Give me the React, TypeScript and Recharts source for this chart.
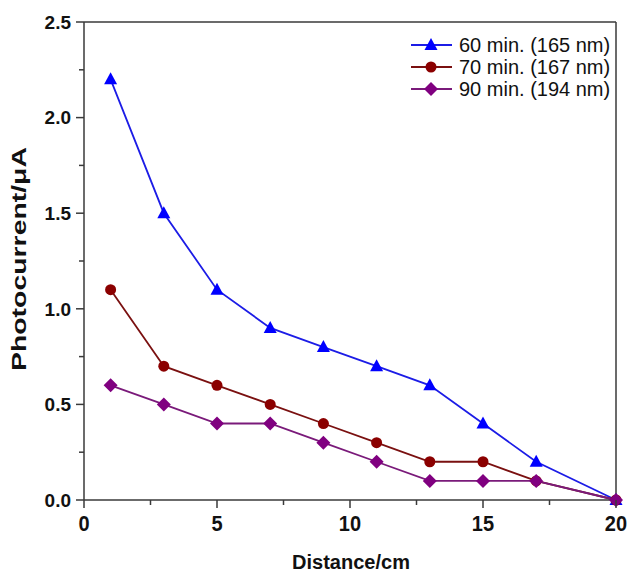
import React from "react"
import { LineChart, Line, XAxis, YAxis, ReferenceLine } from "recharts"

const distances = [1, 3, 5, 7, 9, 11, 13, 15, 17, 20]
const min60 = [2.2, 1.5, 1.1, 0.9, 0.8, 0.7, 0.6, 0.4, 0.2, 0]
const min70 = [1.1, 0.7, 0.6, 0.5, 0.4, 0.3, 0.2, 0.2, 0.1, 0]
const min90 = [0.6, 0.5, 0.4, 0.4, 0.3, 0.2, 0.1, 0.1, 0.1, 0]

const xTicks = [0, 2.5, 5, 7.5, 10, 12.5, 15, 17.5, 20]
const yTicks = [0, 0.25, 0.5, 0.75, 1, 1.25, 1.5, 1.75, 2, 2.25, 2.5]

const FONT = "'Liberation Sans', Arial, sans-serif"
const AXIS = "#3a3a3a"

const toPoints = (ys: number[]) => distances.map((x, i) => ({ x, y: ys[i] }))

type Shape = "triangle" | "circle" | "diamond"

const series: { name: string; values: number[]; line: string; fill: string; shape: Shape }[] = [
  { name: "60 min. (165 nm)", values: min60, line: "#1c1ce6", fill: "#0000ff", shape: "triangle" },
  { name: "70 min. (167 nm)", values: min70, line: "#7a1010", fill: "#8b0000", shape: "circle" },
  { name: "90 min. (194 nm)", values: min90, line: "#7a1a7a", fill: "#800080", shape: "diamond" },
]

function Marker({ cx, cy, shape, fill }: { cx: number; cy: number; shape: Shape; fill: string }) {
  if (shape === "triangle") {
    return <polygon points={`${cx},${cy - 7} ${cx + 6.5},${cy + 5} ${cx - 6.5},${cy + 5}`} fill={fill} />
  }
  if (shape === "circle") {
    return <circle cx={cx} cy={cy} r={5.5} fill={fill} />
  }
  return <polygon points={`${cx},${cy - 7} ${cx + 7},${cy} ${cx},${cy + 7} ${cx - 7},${cy}`} fill={fill} />
}

const XTick = (props: any) => {
  const { x, y, payload } = props
  const major = payload.value % 5 === 0
  return (
    <g>
      <line x1={x} y1={y} x2={x} y2={y + (major ? 8 : 5)} stroke={AXIS} strokeWidth={1.5} />
      {major && (
        <text
          x={x}
          y={y + 31}
          textAnchor="middle"
          fontSize={20}
          fontWeight="bold"
          fontFamily={FONT}
          fill="#111"
          transform={`translate(0, ${-(y + 31) * 0.12}) scale(1, 1.12)`}
        >
          {payload.value}
        </text>
      )}
    </g>
  )
}

const YTick = (props: any) => {
  const { x, y, payload } = props
  const major = Math.abs((payload.value * 2) % 1) < 1e-6
  return (
    <g>
      <line x1={x - (major ? 8 : 5)} y1={y} x2={x} y2={y} stroke={AXIS} strokeWidth={1.5} />
      {major && (
        <text x={x - 13} y={y} dy="0.36em" textAnchor="end" fontSize={19} fontWeight="bold" fontFamily={FONT} fill="#111">
          {payload.value.toFixed(1)}
        </text>
      )}
    </g>
  )
}

const YTitle = (props: any) => {
  const { viewBox } = props
  const cy = viewBox.y + viewBox.height / 2 - 2
  return (
    <text
      x={26}
      y={cy}
      transform={`rotate(-90, 26, ${cy})`}
      textAnchor="middle"
      fontSize={21}
      fontWeight="bold"
      fontFamily={FONT}
      fill="#111"
      textLength={224}
      lengthAdjust="spacingAndGlyphs"
    >
      Photocurrent/&#956;A
    </text>
  )
}

const XTitle = (props: any) => {
  const { viewBox } = props
  const cx = viewBox.x + viewBox.width / 2 + 1
  return (
    <text x={cx} y={569} textAnchor="middle" fontSize={20} fontWeight="bold" fontFamily={FONT} fill="#111">
      Distance/cm
    </text>
  )
}

const LegendBox = () => (
  <div style={{ position: "absolute", left: 408, top: 34, fontFamily: FONT, fontSize: 20, color: "#111" }}>
    {series.map((s) => (
      <div key={s.name} style={{ display: "flex", alignItems: "center", height: 22 }}>
        <svg width={48} height={22}>
          <line x1={3} y1={11} x2={44} y2={11} stroke={s.line} strokeWidth={1.8} />
          <Marker cx={23} cy={11} shape={s.shape} fill={s.fill} />
        </svg>
        <span style={{ whiteSpace: "nowrap", marginLeft: 3 }}>{s.name}</span>
      </div>
    ))}
  </div>
)

export default function App() {
  return (
    <div style={{ position: "absolute", left: 0, top: 0, width: 629, height: 574, background: "#fff" }}>
      <LineChart width={629} height={574} margin={{ top: 22, right: 13, left: 0, bottom: 0 }}>
        <XAxis
          type="number"
          dataKey="x"
          domain={[0, 20]}
          ticks={xTicks}
          interval={0}
          tickSize={0}
          tickMargin={0}
          tickLine={false}
          tick={<XTick />}
          height={74}
          stroke={AXIS}
          strokeWidth={1.5}
          allowDuplicatedCategory={false}
          label={<XTitle />}
        />
        <YAxis
          type="number"
          dataKey="y"
          domain={[0, 2.5]}
          ticks={yTicks}
          interval={0}
          tickSize={0}
          tickMargin={0}
          tickLine={false}
          tick={<YTick />}
          width={84}
          stroke={AXIS}
          strokeWidth={1.5}
          label={<YTitle />}
        />
        <ReferenceLine y={2.5} stroke={AXIS} strokeWidth={1.5} ifOverflow="visible" />
        <ReferenceLine x={20} stroke={AXIS} strokeWidth={1.5} ifOverflow="visible" />
        {series.map((s) => (
          <Line
            key={s.name}
            name={s.name}
            data={toPoints(s.values)}
            dataKey="y"
            stroke={s.line}
            strokeWidth={1.8}
            isAnimationActive={false}
            dot={(p: any) => <Marker key={`${s.name}-${p.index}`} cx={p.cx} cy={p.cy} shape={s.shape} fill={s.fill} />}
            activeDot={false}
          />
        ))}
      </LineChart>
      <LegendBox />
    </div>
  )
}
